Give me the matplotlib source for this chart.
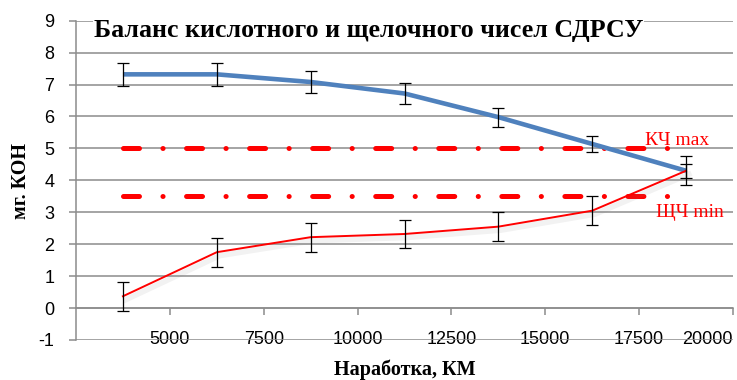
import matplotlib
matplotlib.use("Agg")
import matplotlib.pyplot as plt
import matplotlib.patheffects as pe

# data
probeg = [3750, 6250, 8750, 11250, 13750, 16250, 18750]
kch = [7.32, 7.32, 7.08, 6.72, 5.98, 5.14, 4.30]
kch_err = [0.37, 0.37, 0.35, 0.33, 0.30, 0.26, 0.22]
shch = [0.37, 1.75, 2.22, 2.32, 2.55, 3.05, 4.30]
shch_err = [0.45, 0.46, 0.45, 0.45, 0.45, 0.45, 0.45]
kch_max = [5.0] * len(probeg)
shch_min = [3.5] * len(probeg)

xticks = [5000, 7500, 10000, 12500, 15000, 17500, 20000]
yticks = list(range(-1, 10))

plt.rcParams['lines.scale_dashes'] = False
plt.rcParams['axes.unicode_minus'] = False
serif = ['Liberation Serif', 'DejaVu Serif']
sans = ['Liberation Sans', 'DejaVu Sans']

fig = plt.figure(figsize=(7.37, 3.80), dpi=100)
ax = fig.add_axes([76 / 737, 40 / 380, (733 - 76) / 737, (340 - 20.7) / 380])

grid_col = '#8c8c8c'
ax.set_xlim(2500, 20000)
ax.set_ylim(-1, 9)
ax.set_yticks(yticks)
ax.set_xticks(xticks)
ax.yaxis.grid(True, color=grid_col, linewidth=1.1)
ax.set_axisbelow(True)

for s in ['top', 'right']:
    ax.spines[s].set_visible(False)
ax.spines['bottom'].set_position(('data', 0))
ax.spines['bottom'].set_color(grid_col)
ax.spines['left'].set_color(grid_col)
ax.spines['bottom'].set_linewidth(1.1)
ax.spines['left'].set_linewidth(1.1)

ax.tick_params(axis='both', colors=grid_col, width=1.1, length=5, direction='out')
ax.tick_params(axis='y', pad=10.5, labelcolor='black', labelsize=13)
ax.tick_params(axis='x', pad=11.5, labelcolor='black', labelsize=13)
for lab in ax.get_xticklabels() + ax.get_yticklabels():
    lab.set_family(sans)
# last label sits inside the plot edge, like in the original
ax.get_xticklabels()[-1].set_horizontalalignment('right')

# limit lines
dash = (0, (11.5, 16.9, 0.1, 16.9))
ax.plot(probeg, kch_max, color='#ff0000', linewidth=3.6, linestyle=dash,
        dash_capstyle='round', zorder=3)
ax.plot(probeg, shch_min, color='#ff0000', linewidth=3.6, linestyle=dash,
        dash_capstyle='round', zorder=3)

# series
ax.plot(probeg, kch, color='#4f81bd', linewidth=3.3, solid_capstyle='butt', zorder=4)
ax.plot(probeg, shch, color='#ff0000', linewidth=1.4, zorder=4,
        path_effects=[pe.SimpleLineShadow(offset=(2, -2.5), shadow_color='gray',
                                          alpha=0.1, linewidth=4),
                      pe.Normal()])

ax.errorbar(probeg, kch, yerr=kch_err, fmt='none', ecolor='black',
            elinewidth=0.9, capsize=4.3, capthick=0.9, zorder=5)
ax.errorbar(probeg, shch, yerr=shch_err, fmt='none', ecolor='black',
            elinewidth=0.9, capsize=4.3, capthick=0.9, zorder=5)

ax.text(17650, 5.1, 'КЧ max', color='#ff0000', fontsize=14, family=serif,
        ha='left', va='baseline', zorder=6)
ax.text(17950, 2.84, 'ЩЧ min', color='#ff0000', fontsize=14, family=serif,
        ha='left', va='baseline', zorder=6)

fig.text(368.5 / 737, 0.903, 'Баланс кислотного и щелочного чисел СДРСУ',
         fontsize=18.6, fontweight='bold', family=serif, ha='center', va='baseline',
         bbox=dict(facecolor='white', edgecolor='none', pad=1))
fig.text(405 / 737, 5 / 380, 'Наработка, КМ', fontsize=14.5, fontweight='bold',
         family=serif, ha='center', va='baseline')
fig.text(21 / 737, 0.524, 'мг. КОН', fontsize=14.5, fontweight='bold',
         family=serif, ha='center', va='center', rotation=90)

fig.savefig('out.png', dpi=100)
